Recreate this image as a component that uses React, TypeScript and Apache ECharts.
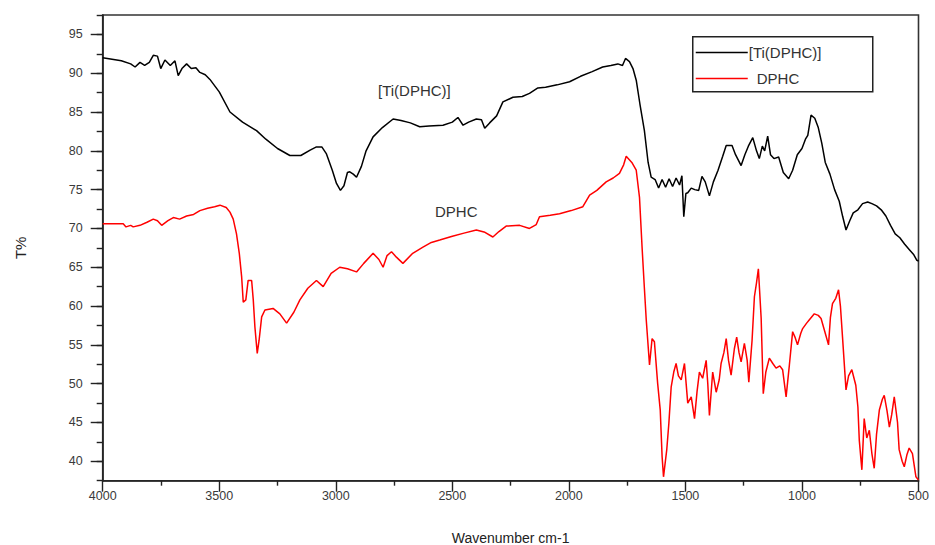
import React, { useEffect, useRef } from "react";
import * as echarts from "echarts";

// Wavenumber (cm-1) and transmittance (%)
const tiX = [4000, 3960, 3920, 3880, 3861, 3840, 3820, 3800, 3783, 3765, 3751, 3733, 3710, 3690, 3676, 3660, 3640, 3620, 3600, 3583, 3560, 3540, 3500, 3454, 3400, 3340, 3300, 3250, 3197, 3150, 3110, 3083, 3060, 3040, 3015, 2997, 2980, 2965, 2950, 2940, 2925, 2911, 2890, 2870, 2840, 2800, 2754, 2720, 2680, 2640, 2600, 2540, 2500, 2476, 2454, 2430, 2397, 2375, 2361, 2340, 2310, 2283, 2240, 2200, 2169, 2133, 2100, 2050, 1997, 1950, 1900, 1855, 1820, 1790, 1770, 1757, 1740, 1725, 1711, 1695, 1676, 1660, 1647, 1630, 1615, 1600, 1585, 1570, 1555, 1540, 1525, 1515, 1507, 1498, 1490, 1475, 1460, 1443, 1429, 1415, 1397, 1380, 1360, 1340, 1325, 1300, 1285, 1261, 1245, 1230, 1211, 1195, 1183, 1170, 1160, 1147, 1135, 1120, 1100, 1080, 1057, 1040, 1020, 1000, 985, 975, 961, 945, 930, 915, 900, 880, 860, 840, 825, 811, 795, 780, 760, 740, 718, 700, 680, 660, 640, 620, 600, 580, 560, 540, 520, 507, 500];
const tiY = [92.0, 91.8, 91.6, 91.2, 90.8, 91.4, 91.0, 91.4, 92.3, 92.2, 90.6, 91.7, 91.0, 91.6, 89.7, 90.6, 91.2, 90.6, 90.7, 90.1, 89.8, 89.2, 87.6, 85.0, 83.7, 82.6, 81.5, 80.3, 79.4, 79.4, 80.1, 80.5, 80.5, 79.6, 77.5, 75.8, 74.9, 75.5, 77.2, 77.3, 77.0, 76.6, 78.0, 80.0, 81.8, 83.0, 84.1, 83.9, 83.6, 83.1, 83.2, 83.3, 83.7, 84.3, 83.3, 83.7, 84.1, 84.0, 82.9, 83.6, 84.5, 86.3, 86.9, 87.0, 87.4, 88.1, 88.2, 88.5, 88.9, 89.6, 90.2, 90.8, 91.0, 91.2, 91.0, 91.9, 91.5, 90.6, 89.1, 86.0, 82.6, 78.5, 76.6, 76.3, 75.2, 76.3, 75.3, 76.4, 75.4, 76.5, 75.6, 76.8, 71.5, 74.5, 74.6, 75.2, 75.0, 74.9, 76.7, 76.0, 74.2, 76.0, 77.5, 79.3, 80.7, 80.7, 79.5, 78.1, 79.5, 80.6, 81.7, 80.0, 79.0, 80.6, 80.0, 81.9, 79.5, 79.0, 79.2, 77.2, 76.4, 77.5, 79.5, 80.3, 81.5, 82.0, 84.6, 84.2, 83.0, 81.0, 78.5, 77.0, 75.0, 73.5, 71.5, 69.8, 71.0, 72.0, 72.4, 73.2, 73.4, 73.2, 72.9, 72.4, 71.6, 70.4, 69.3, 68.8, 68.0, 67.3, 66.6, 65.9, 65.8];

const dphcX = [4000, 3912, 3900, 3880, 3869, 3840, 3810, 3783, 3765, 3747, 3720, 3697, 3670, 3640, 3610, 3583, 3550, 3520, 3497, 3470, 3454, 3440, 3426, 3414, 3404, 3397, 3386, 3376, 3361, 3354, 3347, 3337, 3329, 3318, 3304, 3269, 3240, 3211, 3180, 3154, 3120, 3083, 3054, 3020, 2983, 2950, 2911, 2880, 2840, 2815, 2797, 2780, 2761, 2740, 2712, 2670, 2626, 2590, 2554, 2500, 2450, 2397, 2360, 2326, 2300, 2269, 2211, 2169, 2140, 2126, 2080, 2040, 1990, 1940, 1911, 1880, 1840, 1810, 1783, 1765, 1754, 1730, 1711, 1697, 1686, 1676, 1668, 1654, 1643, 1633, 1619, 1608, 1600, 1594, 1580, 1571, 1561, 1550, 1540, 1530, 1518, 1504, 1490, 1475, 1461, 1450, 1440, 1426, 1411, 1404, 1397, 1383, 1368, 1355, 1347, 1335, 1325, 1315, 1304, 1290, 1280, 1270, 1261, 1247, 1235, 1228, 1214, 1204, 1195, 1187, 1175, 1166, 1155, 1140, 1125, 1111, 1095, 1083, 1068, 1054, 1040, 1030, 1019, 1005, 997, 980, 969, 947, 930, 918, 900, 886, 878, 869, 855, 843, 835, 826, 811, 800, 786, 769, 760, 754, 743, 733, 722, 711, 700, 690, 680, 668, 655, 647, 635, 625, 615, 604, 590, 583, 570, 561, 550, 540, 526, 511, 500];
const dphcY = [70.6, 70.6, 70.2, 70.4, 70.2, 70.4, 70.8, 71.2, 71.0, 70.4, 71.0, 71.4, 71.2, 71.6, 71.8, 72.3, 72.6, 72.8, 73.0, 72.7, 72.1, 71.2, 69.3, 66.8, 63.8, 60.5, 60.8, 63.3, 63.3, 60.8, 57.3, 53.9, 55.6, 58.6, 59.5, 59.7, 59.0, 57.8, 59.2, 60.8, 62.3, 63.3, 62.5, 64.2, 65.0, 64.8, 64.4, 65.5, 66.8, 66.0, 65.0, 66.5, 67.0, 66.3, 65.5, 66.8, 67.6, 68.2, 68.5, 69.0, 69.4, 69.8, 69.5, 68.9, 69.6, 70.3, 70.4, 70.0, 70.5, 71.5, 71.7, 71.9, 72.3, 72.8, 74.3, 74.9, 76.0, 76.5, 77.1, 78.2, 79.3, 78.5, 77.5, 74.0, 67.6, 62.3, 58.2, 52.4, 55.8, 55.4, 50.0, 46.6, 40.6, 38.0, 41.5, 44.9, 49.6, 51.5, 52.6, 51.0, 50.5, 52.6, 47.5, 48.3, 45.5, 49.0, 51.5, 50.7, 53.0, 50.0, 45.9, 51.5, 48.9, 50.5, 52.6, 54.0, 55.8, 53.0, 51.1, 54.5, 56.0, 54.0, 52.8, 55.2, 53.0, 50.2, 55.6, 61.2, 63.0, 64.8, 58.4, 48.7, 51.5, 53.3, 52.6, 52.0, 52.3, 51.8, 48.3, 52.4, 56.7, 56.0, 55.0, 56.5, 57.1, 57.8, 58.2, 59.0, 58.8, 58.4, 56.5, 55.0, 58.5, 60.3, 61.0, 62.1, 60.0, 56.0, 49.2, 51.0, 51.8, 49.8, 47.0, 42.7, 38.9, 45.5, 43.0, 44.0, 41.0, 39.1, 43.5, 46.6, 48.0, 48.5, 46.5, 44.4, 46.0, 48.3, 45.0, 41.5, 40.0, 39.3, 40.8, 41.7, 41.0, 38.0, 37.6];

const seriesNames = ["[Ti(DPHC)]", "DPHC"];
const seriesColors = ["#000000", "#ff0000"];
const xTitle = "Wavenumber cm-1";
const yTitle = "T%";

const FONT = "'Liberation Sans', Arial, sans-serif";
const TXT = "#3a3a3a";

export default function App() {
  const ref = useRef<HTMLDivElement>(null);
  useEffect(() => {
    if (!ref.current) return;
    const chart = echarts.init(ref.current, null, { renderer: "svg" });
    const gLeft = 102.7;
    const gRight = 16.5;
    const gTop = 15;
    const gBottom = 64.3;
    const plotH = 545 - gTop - gBottom;
    const perUnit = plotH / 60;
    const shift = 2.5 * perUnit;
    const tiData = tiX.map((x, i) => [x, tiY[i]]);
    const dpData = dphcX.map((x, i) => [x, dphcY[i]]);
    chart.setOption({
      animation: false,
      backgroundColor: "#ffffff",
      textStyle: { fontFamily: FONT },
      grid: [
        { left: gLeft, right: gRight, top: gTop, bottom: gBottom, show: true, borderColor: "#333", borderWidth: 1.6, backgroundColor: "transparent", containLabel: false, outerBoundsMode: "none" },
        { left: gLeft, right: gRight, top: gTop + shift, bottom: gBottom + shift, show: false, containLabel: false, outerBoundsMode: "none" },
      ],
      xAxis: [
        {
          type: "value", gridIndex: 0, min: 500, max: 4000, interval: 500, inverse: true,
          axisLine: { lineStyle: { color: "#222", width: 1.6 } },
          axisTick: { length: 11, lineStyle: { color: "#222", width: 1.4 } },
          minorTick: { show: true, splitNumber: 2, length: 5, lineStyle: { color: "#222", width: 1.4 } },
          splitLine: { show: false },
          axisLabel: { color: TXT, fontSize: 12.5, margin: 9, fontFamily: FONT, formatter: (v: number) => String(v) },
          name: xTitle, nameLocation: "middle", nameGap: 50,
          nameTextStyle: { color: "#222", fontSize: 14, fontFamily: FONT },
        },
        { type: "value", gridIndex: 1, min: 500, max: 4000, inverse: true, show: false },
      ],
      yAxis: [
        {
          type: "value", gridIndex: 0, min: 37.5, max: 97.5, interval: 2.5,
          axisLine: { lineStyle: { color: "#222", width: 1.6 } },
          axisTick: { length: 6, lineStyle: { color: "#222", width: 1.4 } },
          axisLabel: { show: false },
          splitLine: { show: false },
          name: yTitle, nameLocation: "middle", nameGap: 75,
          nameTextStyle: { color: "#222", fontSize: 15, fontFamily: FONT },
        },
        {
          type: "value", gridIndex: 1, min: 40, max: 95, interval: 5,
          axisLine: { show: false },
          axisTick: { length: 12, lineStyle: { color: "#222", width: 1.4 } },
          axisLabel: { color: TXT, fontSize: 12.5, margin: 20, fontFamily: FONT },
          splitLine: { show: false },
        },
      ],
      series: [
        {
          name: seriesNames[0], type: "line", xAxisIndex: 0, yAxisIndex: 0, data: tiData,
          showSymbol: false, symbol: "none", lineStyle: { color: seriesColors[0], width: 1.5 }, itemStyle: { color: seriesColors[0] },
        },
        {
          name: seriesNames[1], type: "line", xAxisIndex: 0, yAxisIndex: 0, data: dpData,
          showSymbol: false, symbol: "none", lineStyle: { color: seriesColors[1], width: 1.5 }, itemStyle: { color: seriesColors[1] },
        },
      ],
      graphic: [
        {
          type: "group", left: 692, top: 36,
          children: [
            { type: "rect", shape: { x: 0, y: 0, width: 180, height: 55 }, style: { fill: "#fff", stroke: "#222", lineWidth: 1.5 } },
            { type: "line", shape: { x1: 3, y1: 15.7, x2: 55, y2: 15.7 }, style: { stroke: seriesColors[0], lineWidth: 1.5 } },
            { type: "text", x: 56, y: 15.7, style: { text: seriesNames[0], fill: "#333", font: `15px ${FONT}`, textVerticalAlign: "middle", verticalAlign: "middle" } },
            { type: "line", shape: { x1: 3, y1: 41.7, x2: 55, y2: 41.7 }, style: { stroke: seriesColors[1], lineWidth: 1.5 } },
            { type: "text", x: 64, y: 41.7, style: { text: seriesNames[1], fill: "#333", font: `15px ${FONT}`, textVerticalAlign: "middle", verticalAlign: "middle" } },
          ],
        },
        { type: "text", left: 378, top: 83, style: { text: seriesNames[0], fill: "#333", font: `15px ${FONT}` } },
        { type: "text", left: 435, top: 204, style: { text: seriesNames[1], fill: "#333", font: `15px ${FONT}` } },
      ],
    });
    return () => chart.dispose();
  }, []);
  return <div ref={ref} style={{ width: 935, height: 545, position: "absolute", left: 0, top: 0 }} />;
}
